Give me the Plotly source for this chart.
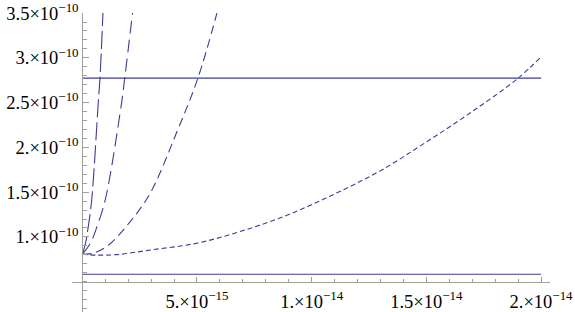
import numpy as np
import plotly.graph_objects as go

XS = 1e-15   # x unit
YS = 1e-10   # y unit

# curve readings (x in 1e-15, y in 1e-10)
a_x = [0, 0.14, 0.26, 0.41, 0.69, 0.77, 0.90]
a_y = [0.806, 0.929, 1.115, 1.413, 2.475, 2.773, 3.5]

b_x = [0, 0.35, 0.64, 1.00, 1.70, 1.85, 2.19]
b_y = [0.806, 0.929, 1.115, 1.413, 2.475, 2.773, 3.5]

c_x = [0, 0.5, 1.15, 2.09, 2.96, 4.13, 5.04, 5.87]
c_y = [0.806, 0.82, 0.910, 1.171, 1.488, 2.177, 2.773, 3.5]

d_x = [0, 0.6, 1.5, 3, 5, 7, 9, 11, 13, 15, 17, 19, 20]
d_y = [0.806, 0.797, 0.802, 0.855, 0.93, 1.07, 1.25, 1.48, 1.74, 2.06, 2.40, 2.773, 3.01]

# horizontal reference levels (1e-10) and their x extent (1e-15)
h_levels = [2.773, 0.583]
h_extent = [0, 20]

x_ticks = [5, 10, 15, 20]
x_ticktext = ["5.×10<sup>−15</sup>", "1.×10<sup>−14</sup>", "1.5×10<sup>−14</sup>", "2.×10<sup>−14</sup>"]
y_ticks = [1.0, 1.5, 2.0, 2.5, 3.0, 3.5]
y_ticktext = ["1.×10<sup>−10</sup>", "1.5×10<sup>−10</sup>", "2.×10<sup>−10</sup>",
              "2.5×10<sup>−10</sup>", "3.×10<sup>−10</sup>", "3.5×10<sup>−10</sup>"]

x_range = [-0.449, 20.39]
y_range = [0.1615, 3.5005]
x_axis_at_y = 0.5
y_axis_at_x = 0.0

COLOR = "rgb(61,61,153)"
AXC = "#a0a0a0"
FONT = dict(family="Liberation Serif", size=18.5, color="black")

fig = go.Figure()
styles = [("18px,5px", a_x, a_y), ("13px,6px", b_x, b_y), ("9px,5px", c_x, c_y), ("5px,3px", d_x, d_y)]
for dash, xs, ys in styles:
    fig.add_trace(go.Scatter(x=np.array(xs) * XS, y=np.array(ys) * YS, mode="lines",
                             line=dict(color=COLOR, width=1.1, dash=dash, shape="spline", smoothing=1.0),
                             showlegend=False, hoverinfo="skip", cliponaxis=True))
for lv in h_levels:
    fig.add_trace(go.Scatter(x=np.array(h_extent) * XS, y=np.array([lv, lv]) * YS, mode="lines",
                             line=dict(color=COLOR, width=1.1), showlegend=False, hoverinfo="skip"))

xpos = (x_axis_at_y - y_range[0]) / (y_range[1] - y_range[0])
ypos = (y_axis_at_x - x_range[0]) / (x_range[1] - x_range[0])

fig.update_layout(
    width=575, height=312,
    margin=dict(l=72, r=25, t=13, b=0, pad=0, autoexpand=False),
    paper_bgcolor="white", plot_bgcolor="white",
    xaxis=dict(range=[v * XS for v in x_range], anchor="free", position=xpos, automargin=False,
               showline=True, linecolor=AXC, linewidth=1, showgrid=False, zeroline=False,
               ticks="inside", ticklen=5, tickcolor=AXC, tickwidth=1, ticklabelstandoff=3,
               ticklabeloverflow="allow",
               tickvals=[v * XS for v in x_ticks], ticktext=x_ticktext, tickfont=FONT,
               minor=dict(ticks="inside", ticklen=3, tickcolor=AXC, tick0=0, dtick=XS, showgrid=False)),
    yaxis=dict(range=[v * YS for v in y_range], anchor="free", position=ypos, automargin=False,
               showline=True, linecolor=AXC, linewidth=1, showgrid=False, zeroline=False,
               ticks="inside", ticklen=6, tickcolor=AXC, tickwidth=1, ticklabeloverflow="allow",
               tickvals=[v * YS for v in y_ticks], ticktext=y_ticktext, tickfont=FONT,
               minor=dict(ticks="inside", ticklen=3.5, tickcolor=AXC, tick0=0, dtick=0.1 * YS, showgrid=False)),
)
fig.write_html("out.html", config={"displayModeBar": False},
               post_script="document.body.style.margin='0px';")
